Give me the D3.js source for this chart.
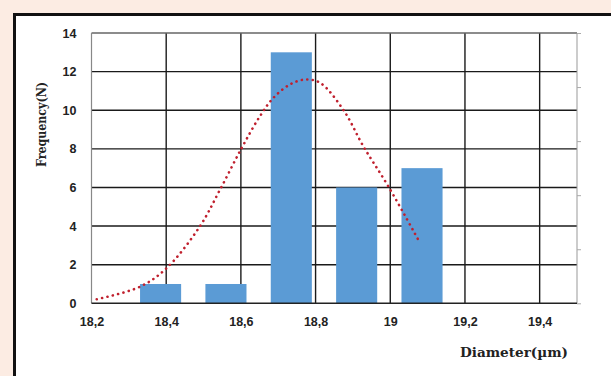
<!DOCTYPE html>
<html>
<head>
<meta charset="utf-8">
<script src="https://cdn.jsdelivr.net/npm/d3@7"></script>
<style>
  html, body { margin: 0; padding: 0; background: #fcece3; }
  svg { display: block; }
</style>
</head>
<body>
<svg id="chart" width="611" height="376"></svg>
<script>
// ---- data ----
const binCenters = [18.385, 18.56, 18.735, 18.91, 19.085];
const frequencies = [1, 1, 13, 6, 7];
const curveX = [18.214, 18.33, 18.401, 18.49, 18.544, 18.602, 18.651, 18.687, 18.731, 18.772, 18.812, 18.874, 18.928, 18.995, 19.075];
const curveY = [0.21, 0.86, 1.82, 3.98, 5.88, 8.04, 9.69, 10.64, 11.33, 11.59, 11.42, 10.03, 8.13, 6.05, 3.29];
const xTicks = [18.2, 18.4, 18.6, 18.8, 19.0, 19.2, 19.4];
const xTickLabels = ["18,2", "18,4", "18,6", "18,8", "19", "19,2", "19,4"];
const yTicks = [0, 2, 4, 6, 8, 10, 12, 14];
const secondaryTicks = [0, 1, 2, 3, 4, 5];
const xLabel = "Diameter(µm)";
const yLabel = "Frequency(N)";

const svg = d3.select("#chart");
const W = 611, H = 376;

// frame
svg.append("rect").attr("x", 0).attr("y", 0).attr("width", W).attr("height", H)
  .attr("fill", "#fcece3");
svg.append("rect").attr("x", 14.5).attr("y", 14.5).attr("width", W + 20).attr("height", H + 20)
  .attr("fill", "#ffffff").attr("stroke", "#111").attr("stroke-width", 3);

const L = 91.5, R = 577, T = 33, B = 303.3;
const x = d3.scaleLinear().domain([18.2, 19.5]).range([L, R]);
const y = d3.scaleLinear().domain([0, 14]).range([B, T]);
const y2 = d3.scaleLinear().domain([0, 5]).range([B, T]);
const binWidth = 0.11;

// gridlines
const grid = svg.append("g");
grid.selectAll("line.h").data(yTicks.filter(d => d > 0 && d < 14)).join("line")
  .attr("x1", L).attr("x2", R).attr("y1", d => y(d)).attr("y2", d => y(d))
  .attr("stroke", "#1a1a1a").attr("stroke-width", 1.4);
grid.selectAll("line.v").data(xTicks.filter(d => d > 18.2)).join("line")
  .attr("y1", T).attr("y2", B).attr("x1", d => x(d)).attr("x2", d => x(d))
  .attr("stroke", "#1a1a1a").attr("stroke-width", 1.4);

// borders of plot area
svg.append("line").attr("x1", L).attr("x2", R).attr("y1", T).attr("y2", T)
  .attr("stroke", "#666").attr("stroke-width", 1.4);
svg.append("line").attr("x1", L).attr("x2", L).attr("y1", T).attr("y2", B)
  .attr("stroke", "#888").attr("stroke-width", 1.2);
svg.append("line").attr("x1", R).attr("x2", R).attr("y1", T).attr("y2", B)
  .attr("stroke", "#999").attr("stroke-width", 1);

// secondary axis ticks on right
const ax2 = svg.append("g").attr("transform", `translate(${R},0)`)
  .call(d3.axisRight(y2).tickValues(secondaryTicks).tickSize(4).tickFormat(""));
ax2.select(".domain").remove();
ax2.selectAll("line").attr("stroke", "#aaa");

// bars
svg.append("g").selectAll("rect").data(binCenters).join("rect")
  .attr("x", d => x(d - binWidth / 2))
  .attr("width", d => x(d + binWidth / 2) - x(d - binWidth / 2))
  .attr("y", (d, i) => y(frequencies[i]))
  .attr("height", (d, i) => y(0) - y(frequencies[i]))
  .attr("fill", "#5b9bd5");

// bottom axis line
svg.append("line").attr("x1", L).attr("x2", R).attr("y1", B).attr("y2", B)
  .attr("stroke", "#222").attr("stroke-width", 1.6);

// normal curve (dotted)
const pts = curveX.map((d, i) => [d, curveY[i]]);
svg.append("path").datum(pts)
  .attr("d", d3.line().x(d => x(d[0])).y(d => y(d[1])).curve(d3.curveCatmullRom))
  .attr("fill", "none").attr("stroke", "#c0202e").attr("stroke-width", 2.6)
  .attr("stroke-linecap", "round").attr("stroke-dasharray", "0.1,5.4");

// axes labels
const tickFont = "'Liberation Sans', Arial, sans-serif";
const axX = svg.append("g").attr("transform", `translate(0,${B})`)
  .call(d3.axisBottom(x).tickValues(xTicks).tickSize(0).tickPadding(14)
    .tickFormat((d, i) => xTickLabels[i]));
axX.select(".domain").remove();
axX.selectAll("text").attr("font-family", tickFont).attr("font-weight", "bold")
  .attr("font-size", 12.5).attr("fill", "#222");

const axY = svg.append("g").attr("transform", `translate(${L},0)`)
  .call(d3.axisLeft(y).tickValues(yTicks).tickSize(0).tickPadding(15));
axY.select(".domain").remove();
axY.selectAll("text").attr("font-family", tickFont).attr("font-weight", "bold")
  .attr("font-size", 12.5).attr("fill", "#222");

svg.append("text").attr("x", 460).attr("y", 357)
  .attr("textLength", 108).attr("lengthAdjust", "spacingAndGlyphs")
  .attr("font-family", "'DejaVu Serif', serif").attr("font-weight", "bold")
  .attr("font-size", 13).attr("fill", "#222").text(xLabel);

svg.append("text").attr("transform", "translate(45.5,167) rotate(-90)")
  .attr("textLength", 85).attr("lengthAdjust", "spacingAndGlyphs")
  .attr("font-family", "'DejaVu Serif', serif").attr("font-weight", "bold")
  .attr("font-size", 12.5).attr("fill", "#222").text(yLabel);
</script>
</body>
</html>
